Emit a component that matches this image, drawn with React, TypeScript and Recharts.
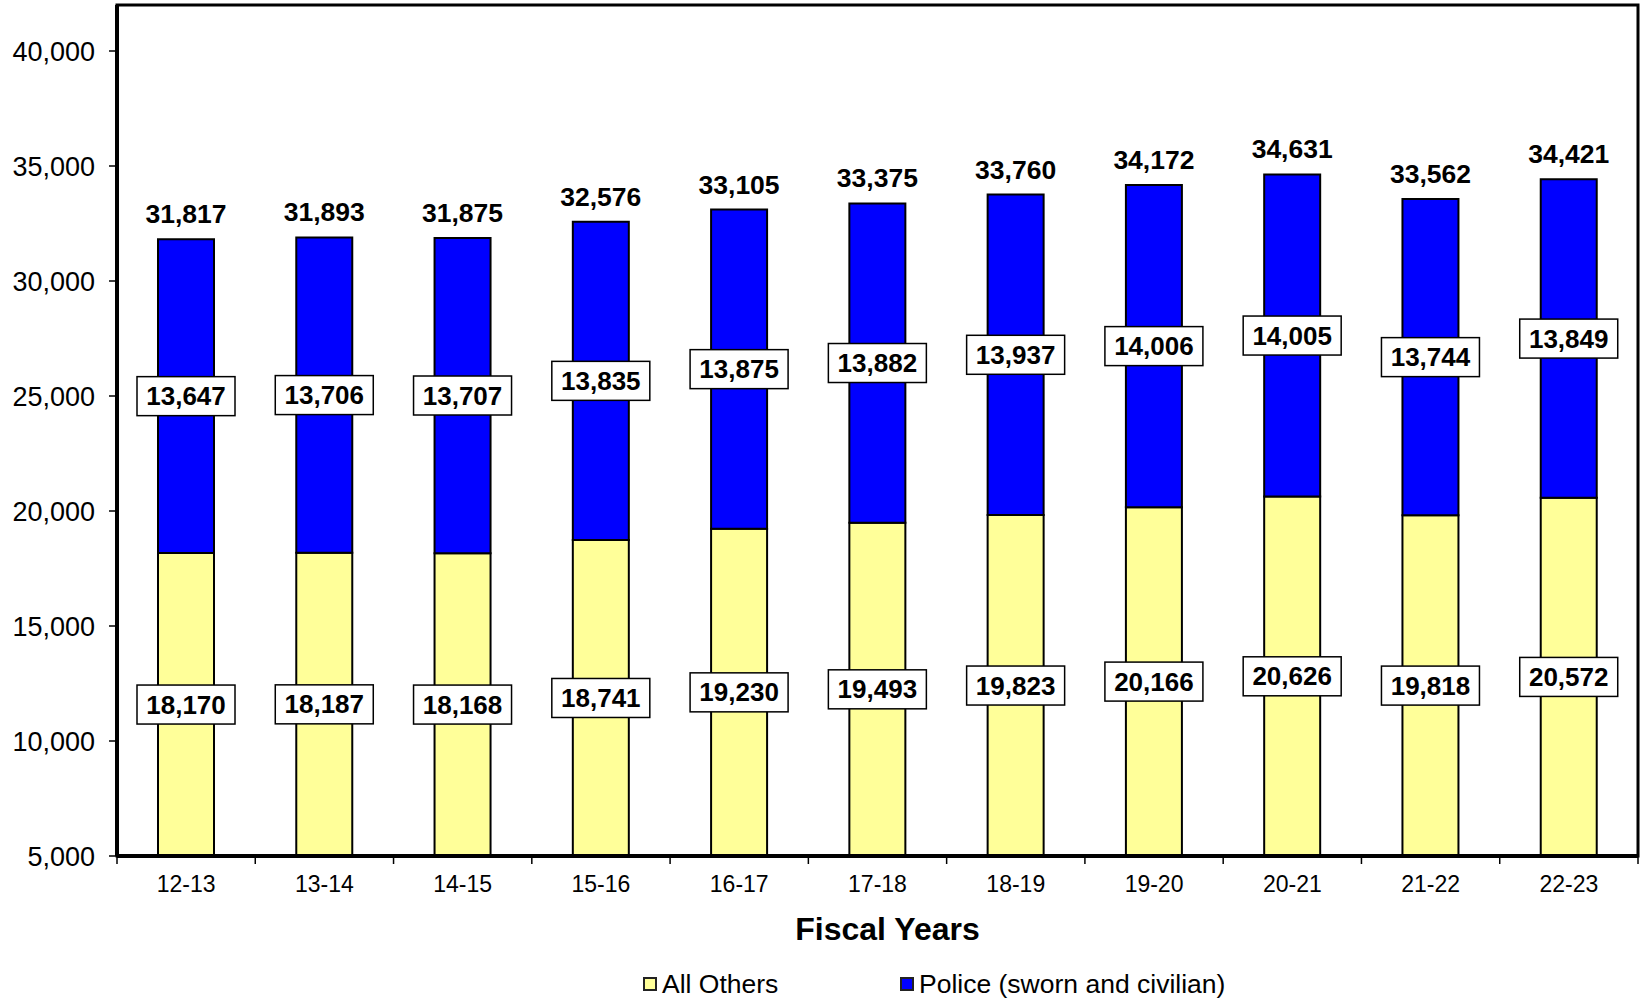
import { BarChart, Bar, XAxis, YAxis, LabelList, Legend, ReferenceArea } from 'recharts';

const FONT = "Arial, 'Liberation Sans', sans-serif";

const years = ['12-13', '13-14', '14-15', '15-16', '16-17', '17-18', '18-19', '19-20', '20-21', '21-22', '22-23'];
const allOthers = [18170, 18187, 18168, 18741, 19230, 19493, 19823, 20166, 20626, 19818, 20572];
const police = [13647, 13706, 13707, 13835, 13875, 13882, 13937, 14006, 14005, 13744, 13849];
const totals = [31817, 31893, 31875, 32576, 33105, 33375, 33760, 34172, 34631, 33562, 34421];
const yTicks = [5000, 10000, 15000, 20000, 25000, 30000, 35000, 40000];

const Y_MIN = 5000;
const Y_MAX = 42000;

const chartData = years.map((year, i) => ({
  year,
  others: allOthers[i],
  police: police[i],
  total: totals[i],
}));

const fmt = (v: number) => Number(v).toLocaleString('en-US');

// white boxed value, centred on the (clipped) segment
const BoxLabel = (props: any) => {
  const { x, y, width, height, value } = props;
  const cx = x + width / 2;
  const cy = y + height / 2;
  return (
    <g>
      <rect x={cx - 49} y={cy - 19.5} width={98} height={39} fill="#fff" stroke="#000" strokeWidth={1.5} />
      <text x={cx} y={cy + 9} textAnchor="middle" fontFamily={FONT} fontWeight="bold" fontSize={26} fill="#000">
        {fmt(value)}
      </text>
    </g>
  );
};

const TotalLabel = (props: any) => {
  const { x, y, width, value } = props;
  return (
    <text x={x + width / 2} y={y - 16} textAnchor="middle" fontFamily={FONT} fontWeight="bold" fontSize={26.5} fill="#000">
      {fmt(value)}
    </text>
  );
};

// category label plus Excel-style tick marks on the category boundaries
const YearTick = (props: any) => {
  const { x, y, payload, index } = props;
  const half = payload && payload.offset ? payload.offset : 69;
  const axisY = y - 20;
  return (
    <g>
      <line x1={x - half} x2={x - half} y1={axisY} y2={axisY + 8} stroke="#000" strokeWidth={1.5} />
      {index === years.length - 1 && (
        <line x1={x + half} x2={x + half} y1={axisY} y2={axisY + 8} stroke="#000" strokeWidth={1.5} />
      )}
      <text x={x} y={y} dy="0.71em" textAnchor="middle" fontFamily={FONT} fontSize={23} fill="#000">
        {payload.value}
      </text>
    </g>
  );
};

const LegendContent = () => (
  <div style={{ position: 'relative', height: 44, fontFamily: FONT, fontSize: 26.5, color: '#000' }}>
    {[
      { name: 'All Others', color: '#FFFF99', left: 643 },
      { name: 'Police (sworn and civilian)', color: '#0000FF', left: 900 },
    ].map((item) => (
      <div
        key={item.name}
        style={{ position: 'absolute', left: item.left, top: 16, height: 28, display: 'flex', alignItems: 'center', whiteSpace: 'nowrap' }}
      >
        <span style={{ display: 'inline-block', width: 14, height: 14, boxSizing: 'border-box', background: item.color, border: '2px solid #222', marginRight: 5 }} />
        <span style={{ lineHeight: '28px' }}>{item.name}</span>
      </div>
    ))}
  </div>
);

export default function App() {
  return (
    <div style={{ position: 'absolute', left: 0, top: 0 }}>
      <BarChart
        width={1641}
        height={998}
        data={chartData}
        margin={{ top: 5, right: 3, left: 0, bottom: 0 }}
        barSize={56}
        style={{ fontFamily: FONT }}
      >
        <XAxis
          dataKey="year"
          height={98}
          axisLine={{ stroke: '#000', strokeWidth: 4 }}
          tickLine={false}
          tickSize={8}
          tickMargin={12}
          tick={<YearTick />}
          label={{
            value: 'Fiscal Years',
            position: 'insideBottom',
            offset: 14,
            dx: 10,
            style: { fill: '#000', fontSize: 32, fontWeight: 'bold', fontFamily: FONT },
          }}
        />
        <YAxis
          width={117}
          domain={[Y_MIN, Y_MAX]}
          ticks={yTicks}
          allowDataOverflow
          tickFormatter={fmt}
          axisLine={{ stroke: '#000', strokeWidth: 4 }}
          tickLine={{ stroke: '#000', strokeWidth: 1.5 }}
          tickSize={8}
          tickMargin={14}
          tick={{ fill: '#000', fontSize: 27, fontFamily: FONT }}
        />
        <Legend verticalAlign="bottom" content={<LegendContent />} wrapperStyle={{ left: 0, bottom: 0, width: 1641, height: 44 }} />
        <Bar dataKey="others" name="All Others" stackId="a" fill="#FFFF99" stroke="#000" strokeWidth={2} isAnimationActive={false}>
          <LabelList dataKey="others" content={(p: any) => <BoxLabel {...p} />} />
        </Bar>
        <Bar dataKey="police" name="Police (sworn and civilian)" stackId="a" fill="#0000FF" stroke="#000" strokeWidth={2} isAnimationActive={false}>
          <LabelList dataKey="police" content={(p: any) => <BoxLabel {...p} />} />
          <LabelList dataKey="total" content={(p: any) => <TotalLabel {...p} />} />
        </Bar>
        <ReferenceArea y1={Y_MIN} y2={Y_MAX} fill="none" stroke="#000" strokeWidth={3} ifOverflow="visible" />
      </BarChart>
    </div>
  );
}
